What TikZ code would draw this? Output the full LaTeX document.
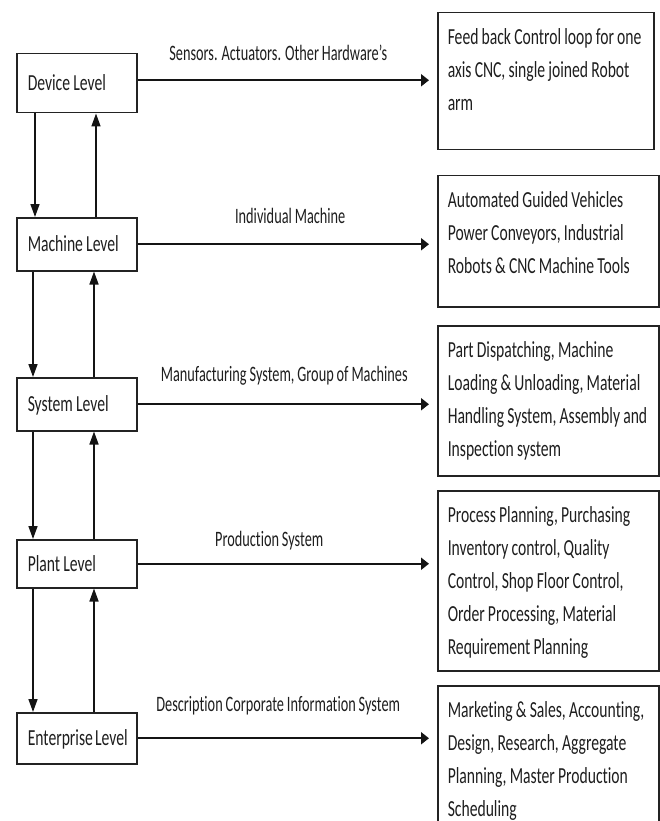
\documentclass[tikz,border=0pt]{standalone}
\usepackage{fontspec}
\setmainfont{Carlito}[FakeStretch=0.65, WordSpace=0.9, Ligatures=NoCommon]
\newfontfamily\boxfont{Carlito}[FakeStretch=0.68, WordSpace=0.9, Ligatures=NoCommon]
\usetikzlibrary{arrows.meta}
\definecolor{boxline}{RGB}{35,35,35}
\definecolor{flowline}{RGB}{20,20,20}
\definecolor{leveltext}{RGB}{30,30,30}

\begin{document}
\begin{tikzpicture}[x=1pt, y=-1pt]
    \tikzstyle{level} = [draw=boxline, line width=1.5pt, anchor=north west, text width=98pt, inner xsep=11pt, inner ysep=0pt, align=left, text height=15pt, text depth=0pt, font=\boxfont\fontsize{23}{33}\selectfont, text=leveltext, execute at begin node={\spaceskip=0pt\xspaceskip=0pt}]
    \tikzstyle{task} = [draw=boxline, line width=1.5pt, anchor=north west, inner xsep=10pt, inner ysep=0pt, align=left, text height=32pt, font=\boxfont\fontsize{23}{33}\selectfont, text=leveltext, execute at begin node={\spaceskip=0pt\xspaceskip=0pt}]
    \tikzstyle{flow} = [line width=2pt, draw=flowline, -{Triangle[length=8pt, width=12pt]}, shorten >=8pt]
    \tikzstyle{updown} = [line width=1.5pt, draw=flowline, -{Triangle[length=13pt, width=9pt]}]
    \tikzstyle{flowlabel} = [anchor=base, yshift=20pt, font=\fontsize{22}{26}\selectfont, text=leveltext]

    \path[use as bounding box, clip] (0, 0) rectangle (660, 821);

    \node[level, minimum height=59pt] (dev) at (16, 53) {Device~Level};
    \node[level, minimum height=53pt] (mach) at (16, 217) {Machine~Level};
    \node[level, minimum height=53pt] (sys) at (16, 377) {System~Level};
    \node[level, minimum height=48pt] (plant) at (16, 539) {Plant~Level};
    \node[level, minimum height=51pt] (ent) at (16, 712) {Enterprise~Level};

    \node[task, text width=196pt, text depth=105pt] (fb) at (437, 12)
        {Feed back Control loop for one\\ axis CNC, single joined Robot\\ arm};
    \node[task, text width=201pt, text depth=99pt] (agv) at (437, 175)
        {Automated Guided Vehicles\\ Power Conveyors, Industrial\\ Robots \& CNC Machine Tools};
    \node[task, text width=201pt, text depth=118pt] (disp) at (437, 325)
        {Part Dispatching, Machine\\ Loading \& Unloading, Material\\ Handling System, Assembly and\\ Inspection system};
    \node[task, text width=201pt, text depth=148pt] (plan) at (437, 490)
        {Process Planning, Purchasing\\ Inventory control, Quality\\ Control, Shop Floor Control,\\ Order Processing, Material\\ Requirement Planning};
    \node[task, text width=201pt, text depth=150pt] (mkt) at (437, 685)
        {Marketing \& Sales, Accounting,\\ Design, Research, Aggregate\\ Planning, Master Production\\ Scheduling};

    \draw[flow] ([yshift=3pt]dev.east) -- ([yshift=3pt]dev.east -| fb.west)
        node[flowlabel, pos=0.47]{Sensors. Actuators. Other Hardware’s};
    \draw[flow] (mach.east) -- (mach.east -| agv.west)
        node[flowlabel, pos=0.51, yshift=1pt]{Individual Machine};
    \draw[flow] (sys.east) -- (sys.east -| disp.west)
        node[flowlabel, pos=0.49, yshift=3pt]{Manufacturing System, Group of Machines};
    \draw[flow] (plant.east) -- (plant.east -| plan.west)
        node[flowlabel, pos=0.44, yshift=-3pt]{Production System};
    \draw[flow] (ent.east) -- (ent.east -| mkt.west)
        node[flowlabel, pos=0.47, yshift=7pt]{Description Corporate Information System};

    \draw[updown] ([xshift=19pt]dev.south west) -- ([xshift=19pt]mach.north west);
    \draw[updown] ([xshift=80pt]mach.north west) -- ([xshift=80pt]dev.south west);
    \draw[updown] ([xshift=17pt]mach.south west) -- ([xshift=17pt]sys.north west);
    \draw[updown] ([xshift=78pt]sys.north west) -- ([xshift=78pt]mach.south west);
    \draw[updown] ([xshift=17pt]sys.south west) -- ([xshift=17pt]plant.north west);
    \draw[updown] ([xshift=78pt]plant.north west) -- ([xshift=78pt]sys.south west);
    \draw[updown] ([xshift=17pt]plant.south west) -- ([xshift=17pt]ent.north west);
    \draw[updown] ([xshift=78pt]ent.north west) -- ([xshift=78pt]plant.south west);
\end{tikzpicture}
\end{document}
